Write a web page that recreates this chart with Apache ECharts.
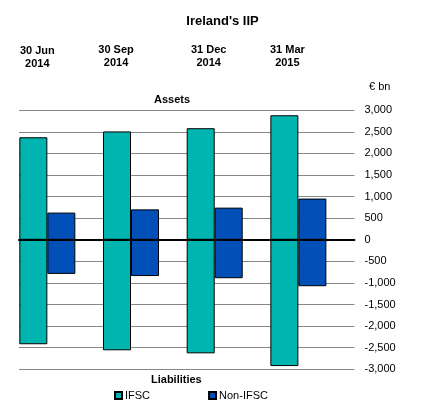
<!DOCTYPE html>
<html>
<head>
<meta charset="utf-8">
<script src="https://cdn.jsdelivr.net/npm/echarts@6/dist/echarts.min.js"></script>
<style>
    html, body { margin: 0; padding: 0; background: #fff; }
    #chart { width: 445px; height: 407px; }
</style>
</head>
<body>
<div id="chart"></div>
<script>
var dates = ['30 Jun\n2014', '30 Sep\n2014', '31 Dec\n2014', '31 Mar\n2015'];
var ifscAssets = [2375, 2510, 2585, 2885];
var nonIfscAssets = [630, 705, 745, 955];
var ifscLiabilities = [-2420, -2560, -2630, -2925];
var nonIfscLiabilities = [-790, -840, -890, -1075];
var yTicks = { min: -3000, max: 3000, step: 500 };

var font = 'Liberation Sans, Arial, sans-serif';
var tealColor = '#00b5b0';
var blueColor = '#0050b8';

var myChart = echarts.init(document.getElementById('chart'));

// bars sit in a narrower grid than the gridlines
var barSeries = function (name, data, color, stack) {
    return {
        name: name,
        type: 'bar',
        xAxisIndex: 1,
        yAxisIndex: 1,
        stack: stack,
        data: data,
        barWidth: 28,
        barGap: '0%',
        itemStyle: {
            color: color,
            borderColor: '#000',
            borderWidth: 1
        }
    };
};

// the date boxes are not quite centred over the bars
var dateLabelStyle = function (padRight, padBottom) {
    return {
        fontSize: 11,
        fontWeight: 'bold',
        color: '#000',
        fontFamily: font,
        lineHeight: 13,
        padding: [0, padRight, padBottom, 0]
    };
};

var option = {
    animation: false,
    textStyle: { fontFamily: font },
    title: [{
        text: "Ireland's IIP",
        left: 'center',
        top: 10,
        textStyle: { fontSize: 13, fontWeight: 'bold', color: '#000', fontFamily: font }
    }, {
        text: 'Assets',
        left: 149,
        top: 89,
        textStyle: { fontSize: 11, fontWeight: 'bold', color: '#000', fontFamily: font }
    }, {
        text: 'Liabilities',
        left: 146,
        top: 369,
        textStyle: { fontSize: 11, fontWeight: 'bold', color: '#000', fontFamily: font }
    }, {
        text: '€ bn',
        left: 364,
        top: 76,
        textStyle: { fontSize: 11, fontWeight: 'normal', color: '#000', fontFamily: font }
    }],
    legend: {
        data: ['IFSC', 'Non-IFSC'],
        left: 109,
        top: 385,
        itemWidth: 7,
        itemHeight: 7,
        itemGap: 58,
        icon: 'rect',
        selectedMode: false,
        textStyle: { fontSize: 11, color: '#000', fontFamily: font, padding: [0, 0, 0, -2] }
    },
    grid: [{
        left: 19,
        right: 90.5,
        top: 110.3,
        bottom: 37.7
    }, {
        left: 5.5,
        right: 104.8,
        top: 110.3,
        bottom: 37.7
    }],
    xAxis: [{
        type: 'category',
        gridIndex: 0,
        data: dates,
        z: 10,
        axisLine: { onZero: true, lineStyle: { color: '#000', width: 2 } },
        axisTick: { show: false },
        axisLabel: { show: false }
    }, {
        type: 'category',
        gridIndex: 1,
        position: 'top',
        data: dates,
        axisLine: { show: false },
        axisTick: { show: false },
        axisLabel: {
            margin: 40,
            formatter: function (value, index) {
                return value.split('\n').map(function (line) {
                    return '{d' + index + '|' + line + '}';
                }).join('\n');
            },
            rich: {
                d0: dateLabelStyle(20, 0),
                d1: dateLabelStyle(30, 1),
                d2: dateLabelStyle(12, 1),
                d3: dateLabelStyle(22, 2)
            }
        }
    }],
    yAxis: [{
        type: 'value',
        gridIndex: 0,
        position: 'right',
        min: yTicks.min,
        max: yTicks.max,
        interval: yTicks.step,
        axisLine: { show: false },
        axisTick: { show: false },
        splitLine: { lineStyle: { color: '#888', width: 1 } },
        axisLabel: {
            margin: 10,
            fontSize: 11,
            color: '#000',
            formatter: function (v) {
                return v.toLocaleString('en-US');
            }
        }
    }, {
        type: 'value',
        gridIndex: 1,
        min: yTicks.min,
        max: yTicks.max,
        interval: yTicks.step,
        show: false
    }],
    series: [
        barSeries('IFSC', ifscAssets, tealColor, 'ifsc'),
        barSeries('Non-IFSC', nonIfscAssets, blueColor, 'non'),
        barSeries('IFSC', ifscLiabilities, tealColor, 'ifsc'),
        barSeries('Non-IFSC', nonIfscLiabilities, blueColor, 'non')
    ]
};
myChart.setOption(option);
</script>
</body>
</html>
